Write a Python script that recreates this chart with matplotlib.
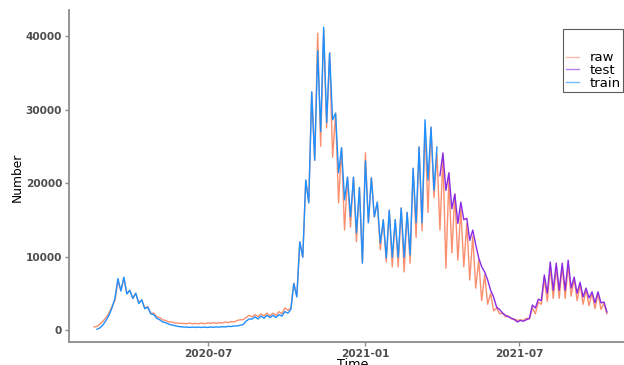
import matplotlib
matplotlib.use("Agg")
import matplotlib.pyplot as plt
from matplotlib.lines import Line2D
import pandas as pd

# half-week samples (every 3.5 days) starting here
start = "2020-02-18"

raw_vals = [
    # first wave
    400, 500, 800, 1200, 1700, 2300, 3200, 4000, 6600, 5400,
    7000, 5000, 5400, 4300, 5000, 3700, 4100, 3000, 3200, 2300,
    2300, 1800, 1700, 1400, 1300, 1100, 1100, 950, 950, 900,
    900,
    # summer 2020
    850, 950, 850, 900, 850, 950, 850, 950, 900, 1000,
    900, 1000, 950, 1100, 1000, 1150, 1100, 1300, 1400, 1400,
    1700, 2000, 1800, 2100, 1800, 2200, 1900, 2300, 1900, 2300,
    2000, 2500, 2200, 3000, 2700,
    # second / third wave
    3000, 6400, 4600, 12000, 9900, 20400, 17300, 32400, 23100, 40400,
    25000, 40800, 27500, 37700, 23500, 29500, 17300, 24800, 13600, 20800,
    14000, 20800, 12000, 19400, 9100, 24100, 14600, 20700, 15400, 17400,
    10900, 15000, 9250, 16300, 8600, 15000, 8600, 16600, 7900, 16000,
    9100, 22000, 12600, 24900, 13500, 27500, 16000, 27600, 18000, 24000,
    # test period
    13600, 23500, 8400, 20500, 10500, 18500, 9500, 16500, 8600, 14500,
    6800, 12800, 5700, 9500, 4000, 7500, 3500, 5000, 2600, 3000,
    2200, 2300, 1800, 1900, 1500, 1500, 1300, 1400, 1300, 1600,
    1500, 3000, 2200, 3800, 3500, 7000, 3900, 8500, 4300, 8500,
    4300, 8700, 4300, 8800, 4600, 7000, 4000, 6200, 3500, 5500,
    3300, 5000, 2900, 5000, 2800, 3700, 2200,
]

# train starts one step after raw
train_vals = [
    100, 300, 700, 1300, 2000, 3000, 4300, 7000, 5300, 7200,
    4900, 5400, 4300, 5000, 3600, 4100, 2900, 3100, 2200, 2100,
    1600, 1400, 1100, 1000, 800, 700, 600, 500, 450, 400,
    400, 350, 400, 350, 400, 350, 400, 350, 400, 380,
    420, 400, 450, 420, 500, 480, 550, 550, 650, 750,
    1200, 1500, 1500, 1800, 1500, 1900, 1600, 2000, 1700, 2000,
    1700, 2100, 1900, 2500, 2300,
    2800, 6300, 4500, 12000, 9900, 20400, 17300, 32400, 23100, 38000,
    27000, 41200, 28200, 37700, 28600, 29500, 21400, 24800, 17700, 20800,
    15400, 20800, 13200, 19400, 9100, 23000, 14600, 20700, 15400, 17400,
    11800, 15000, 9800, 16300, 9900, 15000, 9900, 16600, 9900, 16000,
    10200, 22000, 14600, 24900, 14600, 28600, 20400, 27600, 19000, 24900,
]

# test starts at step 116
test_vals = [
    21000, 24100, 19000, 21400, 16500, 18500, 14500, 17400, 15000, 15200,
    12200, 13600, 11600, 9800, 8600, 7900, 6800, 5400, 4500, 3100,
    2800, 2300, 2000, 1800, 1600, 1400, 1100, 1300, 1200, 1400,
    1600, 3400, 3000, 4200, 4000, 7500, 5000, 9250, 5400, 9100,
    5400, 9100, 5400, 9500, 5700, 7200, 5000, 6500, 4500, 5700,
    4350, 5200, 3700, 5200, 3700, 3800, 2450,
]

dates = pd.date_range(start, periods=len(raw_vals), freq="84h")
train_dates = dates[1:1 + len(train_vals)]
test_dates = dates[116:116 + len(test_vals)]

c_raw = "#FA8F6F"
c_test = "#8A2BE2"
c_train = "#1E90FF"
grey = "#8C8C8C"

fig = plt.figure(figsize=(6.24, 3.65), dpi=100)
ax = fig.add_axes([69 / 624, 23 / 365, 564 / 624, 332 / 365])

ax.plot(dates, raw_vals, color=c_raw, lw=1.0)
ax.plot(train_dates, train_vals, color=c_train, lw=1.0)
ax.plot(test_dates, test_vals, color=c_test, lw=1.0)

ref = pd.Timestamp("2021-01-01")
ax.set_xlim(ref - pd.Timedelta(days=347.4), ref + pd.Timedelta(days=314.6))
ax.set_ylim(-1630, 43540)

ax.set_yticks([0, 10000, 20000, 30000, 40000])
ax.set_yticklabels(["0", "10000", "20000", "30000", "40000"])
xt = [pd.Timestamp("2020-07-01"), pd.Timestamp("2021-01-01"), pd.Timestamp("2021-07-01")]
ax.set_xticks(xt)
ax.set_xticklabels(["2020-07", "2021-01", "2021-07"])

for s in ["top", "right"]:
    ax.spines[s].set_visible(False)
for s in ["left", "bottom"]:
    ax.spines[s].set_color(grey)
    ax.spines[s].set_linewidth(1.3)
ax.tick_params(length=3, width=1, color=grey, labelcolor="#4D4D4D", pad=2)
for lab in ax.get_xticklabels() + ax.get_yticklabels():
    lab.set_fontweight("bold")
    lab.set_fontsize(7.6)

fig.text(17 / 624, 1 - 177 / 365, "Number", rotation=90, ha="center", va="center", fontsize=8.8)
# the x title is cut by the bottom edge, as in the original
fig.text(353 / 624, 1 - 358.5 / 365, "Time", ha="center", va="top", fontsize=9.2)

handles = [
    Line2D([], [], color=c_raw, lw=1.0, alpha=0.6),
    Line2D([], [], color=c_test, lw=1.0, alpha=0.6),
    Line2D([], [], color=c_train, lw=1.0, alpha=0.6),
]
leg = fig.legend(handles, ["raw", "test", "train"], title=" ", title_fontsize=15,
                 loc="upper left", bbox_to_anchor=(563 / 624, 1 - 29 / 365),
                 fontsize=9.5, frameon=True, fancybox=False,
                 handlelength=1.0, handletextpad=0.8, labelspacing=-0.02,
                 borderpad=0.2, borderaxespad=0)
leg.get_frame().set_edgecolor("#333333")
leg.get_frame().set_linewidth(0.8)

fig.savefig("out.png", dpi=100)
